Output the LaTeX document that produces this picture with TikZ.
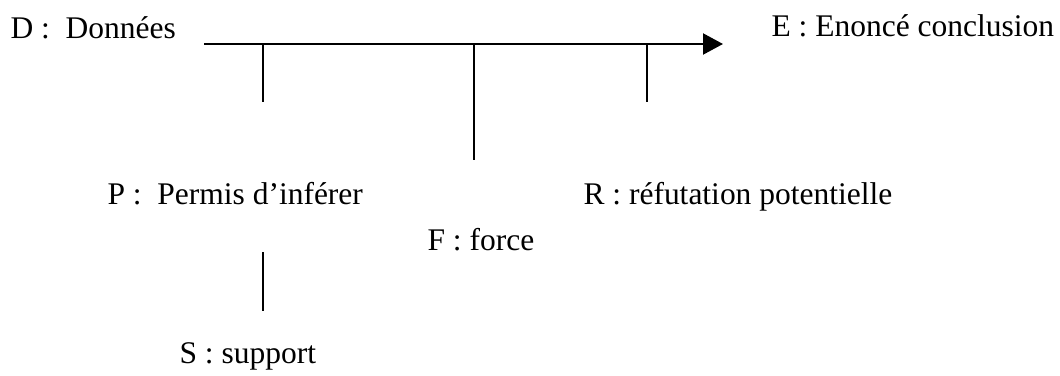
\documentclass[tikz,border=0pt]{standalone}
\usepackage{fontspec}
\setmainfont{Liberation Serif}
\usetikzlibrary{arrows.meta}

\begin{document}
\begin{tikzpicture}[
    x=0.381pt, y=-0.381pt,
    term/.style={anchor=base west, inner sep=0pt, font=\fontsize{12}{14}\selectfont},
    arrow/.style={line width=0.76pt, -{Triangle[length=7.6pt, width=8pt]}},
    tick/.style={line width=0.76pt}
]
    \useasboundingbox (0,0) rectangle (1060,376);

    \node (donnees) [term] at (10,38) {D :\ \ Données};
    \node (enonce) [term] at (771,37) {E : Enoncé conclusion};
    \node (permis) [term] at (107,204) {P :\ \ Permis d’inférer};
    \node (refut) [term] at (583,204) {R : réfutation potentielle};
    \node (force) [term] at (427,250) {F : force};
    \node (support) [term] at (179,363) {S : support};

    \coordinate (start) at (204,44);
    \coordinate (tip) at (723,44);
    \coordinate (pTop) at (263,44);
    \coordinate (pBot) at (263,102);
    \coordinate (fTop) at (474,44);
    \coordinate (fBot) at (474,160);
    \coordinate (rTop) at (647,44);
    \coordinate (rBot) at (647,102);
    \coordinate (sTop) at (263,252);
    \coordinate (sBot) at (263,311);

    \draw [arrow] (start) -- (tip);
    \draw [tick] (pTop) -- (pBot);
    \draw [tick] (fTop) -- (fBot);
    \draw [tick] (rTop) -- (rBot);
    \draw [tick] (sTop) -- (sBot);
\end{tikzpicture}
\end{document}
